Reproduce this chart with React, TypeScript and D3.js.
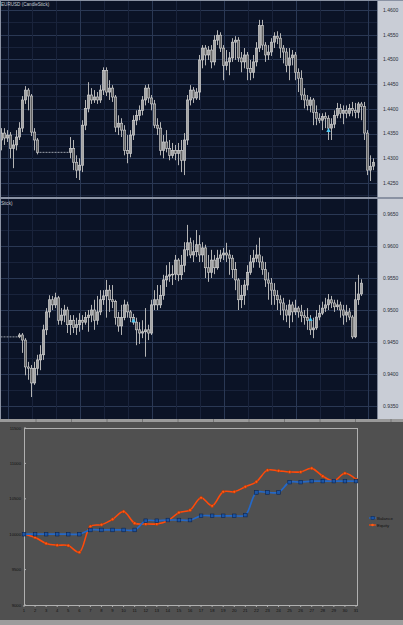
import React from "react";
import * as d3 from "d3";

// ---- price panels ----
const topTitle = "EURUSD (CandleStick)";
const midTitle = "Stick)";
const topTicks = [1.46, 1.455, 1.45, 1.445, 1.44, 1.435, 1.43, 1.425];
const midTicks = [0.965, 0.96, 0.955, 0.95, 0.945, 0.94, 0.935];

// [open, high, low, close]
const topCandles: number[][] = [
  [1.4337, 1.4361, 1.4316, 1.4351], [1.4351, 1.4361, 1.4327, 1.4341], [1.4341, 1.4357, 1.4333, 1.4347],
  [1.4347, 1.4353, 1.43, 1.432], [1.432, 1.4337, 1.428, 1.4327], [1.4327, 1.4357, 1.4316, 1.4343],
  [1.4343, 1.4373, 1.4337, 1.4361], [1.4361, 1.4426, 1.4353, 1.4418], [1.4418, 1.4446, 1.441, 1.4438],
  [1.4438, 1.4442, 1.4397, 1.4426], [1.4426, 1.443, 1.4345, 1.4353], [1.4353, 1.4361, 1.4316, 1.4337],
  [1.4337, 1.4341, 1.4308, 1.4312],
  [1.4312, 1.4312, 1.4312, 1.4312], [1.4312, 1.4312, 1.4312, 1.4312], [1.4312, 1.4312, 1.4312, 1.4312],
  [1.4312, 1.4312, 1.4312, 1.4312], [1.4312, 1.4312, 1.4312, 1.4312], [1.4312, 1.4312, 1.4312, 1.4312],
  [1.4312, 1.4312, 1.4312, 1.4312], [1.4312, 1.4312, 1.4312, 1.4312], [1.4312, 1.4312, 1.4312, 1.4312],
  [1.4312, 1.4312, 1.4312, 1.4312],
  [1.4312, 1.4343, 1.43, 1.432], [1.432, 1.4337, 1.4276, 1.4292], [1.4292, 1.4306, 1.426, 1.4276],
  [1.4276, 1.43, 1.4256, 1.4286], [1.4286, 1.4377, 1.4272, 1.4367], [1.4367, 1.4418, 1.4357, 1.4401],
  [1.4401, 1.4454, 1.4393, 1.4428], [1.4428, 1.4442, 1.441, 1.4418], [1.4418, 1.4438, 1.4412, 1.4424],
  [1.4424, 1.4434, 1.441, 1.4418], [1.4418, 1.4448, 1.4412, 1.4438], [1.4438, 1.4484, 1.4428, 1.4478],
  [1.4478, 1.4484, 1.4426, 1.4434], [1.4434, 1.4458, 1.4418, 1.4442], [1.4442, 1.4448, 1.4414, 1.4424],
  [1.4424, 1.4428, 1.4353, 1.4363], [1.4363, 1.4387, 1.4347, 1.4371], [1.4371, 1.4381, 1.4343, 1.4357],
  [1.4357, 1.4367, 1.4306, 1.4316], [1.4316, 1.4347, 1.429, 1.431], [1.431, 1.4357, 1.4302, 1.4347],
  [1.4347, 1.4387, 1.4337, 1.4377], [1.4377, 1.4397, 1.4367, 1.4387], [1.4387, 1.4407, 1.4377, 1.4397],
  [1.4397, 1.4426, 1.4387, 1.4418], [1.4418, 1.4448, 1.4407, 1.4442], [1.4442, 1.445, 1.4412, 1.4422],
  [1.4422, 1.4428, 1.4397, 1.441], [1.441, 1.4418, 1.4361, 1.4367], [1.4367, 1.4381, 1.4347, 1.4361],
  [1.4361, 1.4373, 1.4306, 1.4316], [1.4316, 1.4347, 1.43, 1.4333], [1.4333, 1.4357, 1.4312, 1.432],
  [1.432, 1.4337, 1.4296, 1.4306], [1.4306, 1.4331, 1.43, 1.4316], [1.4316, 1.4327, 1.4296, 1.431],
  [1.431, 1.4331, 1.4286, 1.4316], [1.4316, 1.4337, 1.4272, 1.4296], [1.4296, 1.4351, 1.4266, 1.4337],
  [1.4337, 1.4428, 1.4327, 1.4418], [1.4418, 1.4448, 1.4407, 1.4438], [1.4438, 1.4444, 1.4412, 1.4422],
  [1.4422, 1.4442, 1.4418, 1.4434], [1.4434, 1.4509, 1.4418, 1.4499], [1.4499, 1.4529, 1.4482, 1.4523],
  [1.4523, 1.4529, 1.4488, 1.4509], [1.4509, 1.4527, 1.4499, 1.4519], [1.4519, 1.4529, 1.4482, 1.4495],
  [1.4495, 1.4549, 1.4488, 1.4539], [1.4539, 1.4559, 1.4529, 1.4549], [1.4549, 1.4555, 1.4515, 1.4523],
  [1.4523, 1.4529, 1.4458, 1.4488], [1.4488, 1.4519, 1.4478, 1.4495], [1.4495, 1.4515, 1.4468, 1.4503],
  [1.4503, 1.4543, 1.4495, 1.4535], [1.4535, 1.4547, 1.4499, 1.4539], [1.4539, 1.4545, 1.4495, 1.4503],
  [1.4503, 1.4515, 1.4474, 1.4495], [1.4495, 1.4523, 1.4482, 1.4509], [1.4509, 1.4515, 1.4458, 1.4482],
  [1.4482, 1.4499, 1.4458, 1.4474], [1.4474, 1.4509, 1.4462, 1.4495], [1.4495, 1.4535, 1.4486, 1.4523],
  [1.4523, 1.458, 1.4515, 1.4569], [1.4569, 1.458, 1.4519, 1.4529], [1.4529, 1.4535, 1.4495, 1.4509],
  [1.4509, 1.4529, 1.4499, 1.4515], [1.4515, 1.4543, 1.4507, 1.4535], [1.4535, 1.4555, 1.4523, 1.4547],
  [1.4547, 1.4557, 1.4531, 1.4543], [1.4543, 1.4553, 1.4503, 1.4523], [1.4523, 1.4529, 1.4492, 1.4515],
  [1.4515, 1.4523, 1.4474, 1.4488], [1.4488, 1.4523, 1.4458, 1.4503], [1.4503, 1.4519, 1.4488, 1.4509],
  [1.4509, 1.4515, 1.4458, 1.4474], [1.4474, 1.4482, 1.4434, 1.4462], [1.4462, 1.4478, 1.4418, 1.4428],
  [1.4428, 1.4442, 1.4401, 1.4418], [1.4418, 1.4428, 1.4397, 1.4407], [1.4407, 1.4424, 1.4393, 1.4418],
  [1.4418, 1.4422, 1.4367, 1.4393], [1.4393, 1.4407, 1.4367, 1.4381], [1.4381, 1.4391, 1.4371, 1.4377],
  [1.4377, 1.4391, 1.4357, 1.4385], [1.4385, 1.4393, 1.4361, 1.4381], [1.4381, 1.4387, 1.4337, 1.4361],
  [1.4361, 1.4381, 1.4337, 1.4369], [1.4369, 1.4397, 1.4361, 1.4387], [1.4387, 1.4412, 1.4381, 1.4401],
  [1.4401, 1.441, 1.4381, 1.4391], [1.4391, 1.4407, 1.4369, 1.4397], [1.4397, 1.4407, 1.4381, 1.4391],
  [1.4391, 1.441, 1.4385, 1.4401], [1.4401, 1.4414, 1.4385, 1.4397], [1.4397, 1.4412, 1.4381, 1.4393],
  [1.4393, 1.4414, 1.4381, 1.441], [1.441, 1.4414, 1.4377, 1.4405], [1.4405, 1.4414, 1.4337, 1.4351],
  [1.4351, 1.4357, 1.4266, 1.4276], [1.4276, 1.4306, 1.4254, 1.4284], [1.4284, 1.43, 1.4276, 1.4292],
];

const midCandles: number[][] = [
  [0.9458, 0.9458, 0.9458, 0.9458], [0.9458, 0.9458, 0.9458, 0.9458], [0.9458, 0.9458, 0.9458, 0.9458],
  [0.9458, 0.9458, 0.9458, 0.9458], [0.9458, 0.9458, 0.9458, 0.9458], [0.9458, 0.9458, 0.9458, 0.9458],
  [0.9458, 0.9464, 0.9456, 0.9461], [0.9461, 0.9464, 0.9433, 0.9453], [0.9453, 0.9456, 0.9398, 0.9411],
  [0.9411, 0.9419, 0.9391, 0.9409], [0.9409, 0.9414, 0.9364, 0.9386], [0.9386, 0.9419, 0.9383, 0.9409],
  [0.9409, 0.943, 0.9398, 0.9422], [0.9422, 0.9445, 0.9406, 0.943], [0.943, 0.9477, 0.9422, 0.9469],
  [0.9469, 0.9503, 0.9461, 0.9497], [0.9497, 0.9523, 0.9488, 0.9516], [0.9516, 0.9522, 0.95, 0.9508],
  [0.9508, 0.9527, 0.9503, 0.9519], [0.9519, 0.9522, 0.9477, 0.9484], [0.9484, 0.9503, 0.9477, 0.9492],
  [0.9492, 0.9508, 0.9481, 0.95], [0.95, 0.9505, 0.9464, 0.9477], [0.9477, 0.9492, 0.9461, 0.9484],
  [0.9484, 0.9492, 0.9464, 0.9473], [0.9473, 0.9488, 0.9461, 0.9477], [0.9477, 0.9495, 0.9466, 0.9484],
  [0.9484, 0.9492, 0.9469, 0.9481], [0.9481, 0.9497, 0.9477, 0.9488], [0.9488, 0.95, 0.9466, 0.9492],
  [0.9492, 0.9508, 0.9481, 0.95], [0.95, 0.9516, 0.9469, 0.9484], [0.9484, 0.9522, 0.9477, 0.9497],
  [0.9497, 0.9531, 0.9492, 0.9516], [0.9516, 0.9531, 0.9508, 0.9522], [0.9522, 0.9547, 0.9488, 0.9531],
  [0.9531, 0.9539, 0.9497, 0.9516], [0.9516, 0.9539, 0.9503, 0.9513], [0.9513, 0.9516, 0.9477, 0.9488],
  [0.9488, 0.9497, 0.9466, 0.9475], [0.9475, 0.9508, 0.9461, 0.9488], [0.9488, 0.9516, 0.9484, 0.9508],
  [0.9508, 0.9513, 0.9488, 0.9497], [0.9497, 0.95, 0.9481, 0.9488], [0.9488, 0.9494, 0.9477, 0.9481],
  [0.9481, 0.9488, 0.9445, 0.9469], [0.9469, 0.9481, 0.9447, 0.9464], [0.9464, 0.9484, 0.9456, 0.9466],
  [0.9466, 0.9503, 0.9427, 0.9469], [0.9469, 0.9477, 0.9453, 0.9464], [0.9464, 0.9516, 0.9461, 0.9508],
  [0.9508, 0.9531, 0.95, 0.9516], [0.9516, 0.9539, 0.95, 0.9508], [0.9508, 0.9539, 0.9503, 0.9523],
  [0.9523, 0.9555, 0.9516, 0.9547], [0.9547, 0.957, 0.9536, 0.9553], [0.9553, 0.9575, 0.9544, 0.9555],
  [0.9555, 0.957, 0.9539, 0.9556], [0.9556, 0.9586, 0.9547, 0.9578], [0.9578, 0.9581, 0.9545, 0.9555],
  [0.9555, 0.9586, 0.9547, 0.957], [0.957, 0.9606, 0.9559, 0.9594], [0.9594, 0.9633, 0.9584, 0.9605],
  [0.9605, 0.9613, 0.9581, 0.9586], [0.9586, 0.9609, 0.9575, 0.9591], [0.9591, 0.9625, 0.9583, 0.9602],
  [0.9602, 0.9617, 0.9575, 0.9586], [0.9586, 0.9606, 0.9575, 0.9597], [0.9597, 0.9602, 0.955, 0.9566],
  [0.9566, 0.9586, 0.9544, 0.9559], [0.9559, 0.9594, 0.955, 0.9578], [0.9578, 0.9586, 0.9556, 0.9566],
  [0.9566, 0.9594, 0.9563, 0.9581], [0.9581, 0.9594, 0.9575, 0.9586], [0.9586, 0.9597, 0.9578, 0.9589],
  [0.9589, 0.9605, 0.9575, 0.9586], [0.9586, 0.9594, 0.9555, 0.9581], [0.9581, 0.9586, 0.955, 0.9563],
  [0.9563, 0.9575, 0.9531, 0.9547], [0.9547, 0.955, 0.95, 0.9516], [0.9516, 0.9539, 0.9503, 0.9523],
  [0.9523, 0.9547, 0.9508, 0.9539], [0.9539, 0.957, 0.9531, 0.9559], [0.9559, 0.9586, 0.9555, 0.9575],
  [0.9575, 0.9594, 0.9566, 0.9581], [0.9581, 0.9602, 0.9575, 0.9586], [0.9586, 0.9613, 0.9566, 0.9575],
  [0.9575, 0.9584, 0.9555, 0.9563], [0.9563, 0.9575, 0.9536, 0.9547], [0.9547, 0.9559, 0.9516, 0.9542],
  [0.9542, 0.955, 0.9508, 0.9531], [0.9531, 0.9542, 0.9508, 0.9523], [0.9523, 0.9531, 0.95, 0.9516],
  [0.9516, 0.9523, 0.9492, 0.9511], [0.9511, 0.9519, 0.9484, 0.95], [0.95, 0.9508, 0.9481, 0.9492],
  [0.9492, 0.9516, 0.9472, 0.9508], [0.9508, 0.9513, 0.9481, 0.9497], [0.9497, 0.9516, 0.9492, 0.9503],
  [0.9503, 0.9506, 0.9488, 0.9497], [0.9497, 0.9508, 0.9481, 0.9491], [0.9491, 0.95, 0.9477, 0.9488],
  [0.9488, 0.9503, 0.9469, 0.9484], [0.9484, 0.9492, 0.9461, 0.9469], [0.9469, 0.9488, 0.9456, 0.9472],
  [0.9472, 0.95, 0.9469, 0.9489], [0.9489, 0.9508, 0.9484, 0.9495], [0.9495, 0.9513, 0.9492, 0.9503],
  [0.9503, 0.9519, 0.9497, 0.9508], [0.9508, 0.9525, 0.95, 0.9516], [0.9516, 0.9522, 0.9503, 0.9511],
  [0.9511, 0.9516, 0.9497, 0.9505], [0.9505, 0.9516, 0.95, 0.9508], [0.9508, 0.9513, 0.9488, 0.95],
  [0.95, 0.9508, 0.9477, 0.9492], [0.9492, 0.9508, 0.9481, 0.9497], [0.9497, 0.9503, 0.9484, 0.9489],
  [0.9489, 0.9492, 0.9455, 0.9458], [0.9458, 0.9544, 0.9456, 0.9516], [0.9516, 0.9555, 0.9508, 0.9525],
  [0.9525, 0.9548, 0.9522, 0.9542],
];

// [candle index, price] of the cyan trade arrows
const topArrows = [[109, 1.4357]];
const midArrows = [[44, 0.9484], [103, 0.9486]];

// ---- balance / equity ----
const days = d3.range(1, 32);
const balance = [
  10000, 10000, 10000, 10000, 10000, 10000, 10060, 10060, 10060, 10060, 10060, 10190, 10190, 10200, 10200, 10200,
  10260, 10260, 10260, 10260, 10270, 10590, 10590, 10590, 10735, 10735, 10750, 10750, 10750, 10750, 10750,
];
const equity = [
  10000, 9955, 9870, 9845, 9840, 9745, 10110, 10135, 10210, 10320, 10155, 10145, 10145, 10190, 10305, 10340,
  10515, 10400, 10600, 10600, 10670, 10740, 10905, 10895, 10880, 10880, 10930, 10820, 10755, 10860, 10775,
];
const eqTicks = [9000, 9500, 10000, 10500, 11000, 11500];
const legendLabels = ["Balance", "Equity"];

const AXIS_X = 377;
const FONT = "'Liberation Sans', Arial, sans-serif";

type PanelProps = {
  id: string;
  data: number[][];
  ticks: number[];
  top: number;
  bottom: number;
  yDomain: [number, number];
  yRange: [number, number];
  title: string;
  arrows: number[][];
};

function CandlePanel({ id, data, ticks, top, bottom, yDomain, yRange, title, arrows }: PanelProps) {
  const x = d3.scaleBand<number>().domain(d3.range(data.length)).range([0, data.length * 3]);
  const y = d3.scaleLinear().domain(yDomain).range(yRange);
  const lo = y.invert(bottom);
  const hi = y.invert(top);
  const step = 0.0025;
  const hLines = d3.range(Math.ceil(lo / step), Math.floor(hi / step) + 1).map((k) => k * step);
  const vLines = d3.range(0, AXIS_X, 24);
  const fmt = d3.format(".4f");

  return (
    <g>
      <defs>
        <clipPath id={id}>
          <rect x={0} y={top} width={AXIS_X} height={bottom - top} />
        </clipPath>
      </defs>
      <rect x={0} y={top} width={AXIS_X} height={bottom - top} fill="#0b1326" />
      <g clipPath={`url(#${id})`}>
        {hLines.map((v, i) => {
          const major = Math.abs(v / 0.005 - Math.round(v / 0.005)) < 1e-6;
          return (
            <line key={"h" + i} x1={0} x2={AXIS_X} y1={Math.round(y(v)) + 0.5} y2={Math.round(y(v)) + 0.5}
              stroke={major ? "#2a3854" : "#19233b"} strokeWidth={1} />
          );
        })}
        {vLines.map((v, i) => (
          <line key={"v" + i} x1={v + 8.5} x2={v + 8.5} y1={top} y2={bottom}
            stroke={i % 3 === 0 ? "#2a3854" : "#19233b"} strokeWidth={1} />
        ))}
        {data.map(([o, h, l, c], i) => {
          const cx = (x(i) as number) + 1.5;
          const flat = h === l;
          if (flat) {
            return <line key={i} x1={cx - 1} x2={cx + 1} y1={y(c)} y2={y(c)} stroke="#9aa0aa" strokeWidth={1} />;
          }
          const yt = y(Math.max(o, c));
          const yb = y(Math.min(o, c));
          return (
            <g key={i}>
              <line x1={cx} x2={cx} y1={y(h)} y2={y(l)} stroke="#b4b4b4" strokeWidth={1} />
              <rect x={cx - 1.2} y={yt} width={2.4} height={Math.max(yb - yt, 0.8)}
                fill={c >= o ? "#a4a4a4" : "#626262"} stroke="#d2d2d2" strokeWidth={0.6} />
            </g>
          );
        })}
        {arrows.map(([i, p], k) => {
          const cx = (x(i) as number) + 1.5;
          const cy = y(p);
          return <path key={"a" + k} d={`M${cx - 2.2},${cy + 2}L${cx + 2.2},${cy + 2}L${cx},${cy - 2}Z`} fill="#4cc6f0" />;
        })}
      </g>
      <text x={1} y={top + 6} fontFamily={FONT} fontSize={4.6} fill="#c4c8d0">{title}</text>
      <rect x={AXIS_X} y={top} width={403 - AXIS_X} height={bottom - top} fill="#c9cdd6" />
      <line x1={AXIS_X + 0.5} x2={AXIS_X + 0.5} y1={top} y2={bottom} stroke="#7d8596" />
      {ticks.map((t) => (
        <text key={t} x={383} y={y(t) + 1.8} fontFamily={FONT} fontSize={5} fill="#2a2e36">{fmt(t)}</text>
      ))}
    </g>
  );
}

function EquityChart() {
  const left = 24, right = 357, top = 428, bottom = 605;
  const x = d3.scaleLinear().domain([1, 31]).range([24, 356]);
  const y = d3.scaleLinear().domain([9000, 11500]).range([bottom, top]);
  const curve = d3.curveCatmullRom.alpha(0.5);
  const eqLine = d3.line<number>().x((_, i) => x(days[i])).y((d) => y(d)).curve(curve);
  const balLine = d3.line<number>().x((_, i) => x(days[i])).y((d) => y(d)).curve(curve);
  const dividers = d3.range(36, 403, 35.5);

  return (
    <g fontFamily={FONT}>
      <rect x={0} y={419} width={403} height={206} fill="#505050" />
      <rect x={0} y={419} width={403} height={3} fill="#9a9a9a" />
      {dividers.map((d) => (
        <line key={d} x1={d} x2={d} y1={419} y2={422} stroke="#6a6a6a" strokeWidth={0.8} />
      ))}
      <rect x={0} y={620} width={403} height={5} fill="#9c9c9c" />
      <rect x={left + 0.5} y={top + 0.5} width={right - left} height={bottom - top} fill="none" stroke="#b0b0b0" strokeWidth={1} />
      {eqTicks.map((t) => (
        <g key={t}>
          <line x1={left} x2={left + 2} y1={y(t)} y2={y(t)} stroke="#b0b0b0" />
          <text x={21} y={y(t) + 1.5} textAnchor="end" fontSize={4.2} fill="#111">{t}</text>
        </g>
      ))}
      {days.map((d) => (
        <g key={d}>
          <line x1={x(d)} x2={x(d)} y1={bottom} y2={bottom + 2} stroke="#b0b0b0" />
          <text x={x(d)} y={611.5} textAnchor="middle" fontSize={4.2} fill="#111">{d}</text>
        </g>
      ))}
      <path d={eqLine(equity) as string} fill="none" stroke="#ff4a0a" strokeWidth={1.6} />
      {equity.map((v, i) => (
        <circle key={"e" + i} cx={x(days[i])} cy={y(v)} r={1.5} fill="#ff5a14" stroke="#a83000" strokeWidth={0.5} />
      ))}
      <path d={balLine(balance) as string} fill="none" stroke="#2468c8" strokeWidth={1.7} />
      {balance.map((v, i) => (
        <rect key={"b" + i} x={x(days[i]) - 1.8} y={y(v) - 1.8} width={3.6} height={3.6}
          fill="#1d56a6" stroke="#0b2450" strokeWidth={0.6} />
      ))}
      {/* legend */}
      <line x1={369} x2={376} y1={518} y2={518} stroke="#2468c8" strokeWidth={1.2} />
      <rect x={371} y={516.4} width={3.2} height={3.2} fill="#1d56a6" stroke="#0b2450" strokeWidth={0.5} />
      <text x={377} y={519.6} fontSize={4.4} fill="#111">{legendLabels[0]}</text>
      <line x1={369} x2={376} y1={525} y2={525} stroke="#ff4a0a" strokeWidth={1.2} />
      <circle cx={372.5} cy={525} r={1.3} fill="#ff5a14" />
      <text x={377} y={526.6} fontSize={4.4} fill="#111">{legendLabels[1]}</text>
    </g>
  );
}

export default function App() {
  return (
    <svg width={403} height={625} style={{ position: "absolute", left: 0, top: 0, background: "#505050" }}>
      <CandlePanel id="cp-top" data={topCandles} ticks={topTicks} top={0} bottom={197}
        yDomain={[1.425, 1.46]} yRange={[183, 10]} title={topTitle} arrows={topArrows} />
      <rect x={0} y={197} width={403} height={2} fill="#8a92a3" />
      <CandlePanel id="cp-mid" data={midCandles} ticks={midTicks} top={199} bottom={419}
        yDomain={[0.935, 0.965]} yRange={[406, 214]} title={midTitle} arrows={midArrows} />
      <line x1={0} x2={403} y1={0.5} y2={0.5} stroke="#8a92a3" />
      <line x1={0.5} x2={0.5} y1={0} y2={419} stroke="#8a92a3" />
      <EquityChart />
    </svg>
  );
}
